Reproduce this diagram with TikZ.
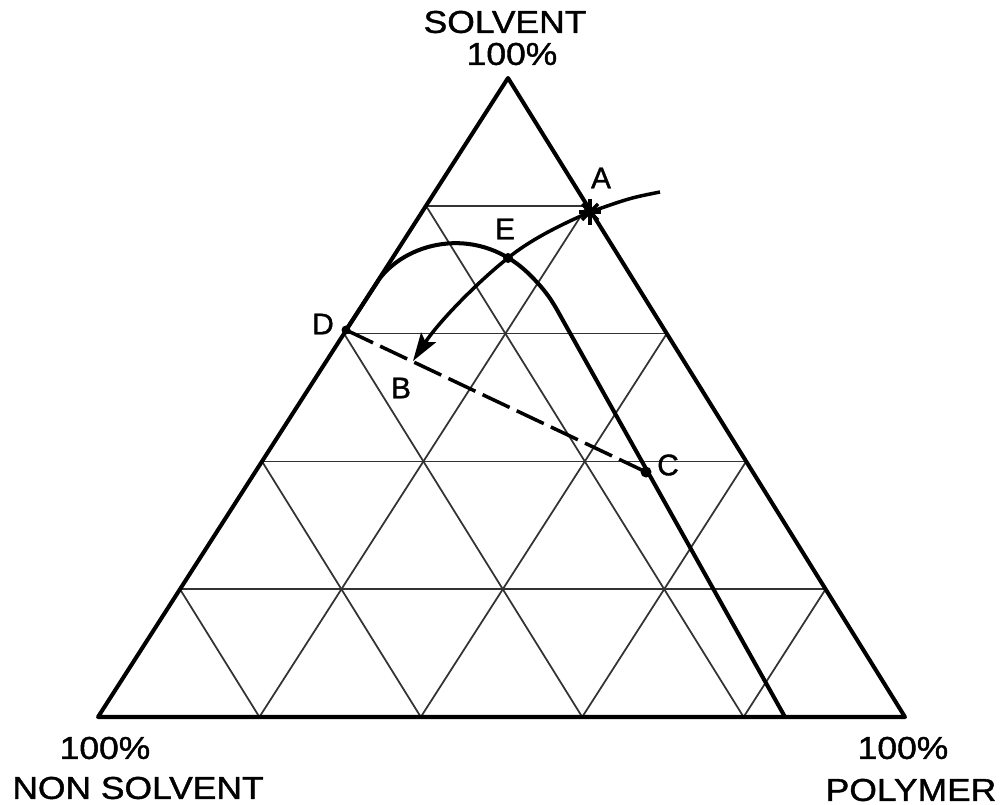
\documentclass[tikz,border=0pt]{standalone}
\usepackage{fontspec}
\usepackage{graphicx}
\setmainfont{Liberation Sans}
\newfontfamily\lblfont[FakeBold=1.2]{Liberation Sans}
\usetikzlibrary{calc,arrows.meta}
\newcommand{\wtext}[1]{\scalebox{1.12}[1]{#1}}
\begin{document}
\begin{tikzpicture}[x=0.02cm,y=-0.02cm,
  side/.style={line width=2.3pt, line join=round, line cap=round},
  gridline/.style={line width=1pt, black!80},
  curveline/.style={line width=2.3pt, line join=round},
  arrowline/.style={line width=2pt, -{Stealth[length=16pt,width=10pt,inset=3pt]}},
  tieline/.style={line width=2pt, dash pattern=on 17pt off 4.5pt},
  lbl/.style={font=\lblfont\fontsize{18}{18}\selectfont, inner sep=0pt},
  ptlbl/.style={font=\lblfont\fontsize{17}{17}\selectfont, inner sep=0pt}]
\useasboundingbox (0,0) rectangle (1005,805);
% vertices
\coordinate (T) at (508,78);
\coordinate (L) at (98,717);
\coordinate (R) at (905,717);
% grid
\foreach \k in {1,...,4}{
  \draw[gridline] ($(L)!\k/5!(T)$) -- ($(R)!\k/5!(T)$);
  \draw[gridline] ($(L)!\k/5!(R)$) -- ($(T)!\k/5!(R)$);
  \draw[gridline] ($(R)!\k/5!(L)$) -- ($(T)!\k/5!(L)$);
}
% triangle
\draw[side] (T) -- (L) -- (R) -- cycle;
% points
\coordinate (D) at (346,330);
\coordinate (E) at (508,258);
\coordinate (A) at (590,212);
\coordinate (B) at (413,361);
\coordinate (C) at (646,472);
\coordinate (S) at (660,192);
\coordinate (bottomend) at (785,717);
% binodal curve
\draw[curveline] (D) -- (380,278) .. controls (410,240) and (480,225) .. (530,275)
  .. controls (545,290) and (550,298) .. (556,308) -- (bottomend);
% tie line
\draw[tieline] (D) -- (C);
% path arrow
\draw[arrowline] (S) .. controls (630,198) .. (A) .. controls (560,225) and (530,240) .. (E)
  .. controls (480,280) and (440,320) .. (B);
% markers
\fill (D) circle (4.5);
\fill (E) circle (5);
\fill (C) circle (5.5);
\draw[line width=2.4pt] ($(A)+(-11,0)$) -- ($(A)+(11,0)$);
\draw[line width=2.4pt] ($(A)+(0,-13)$) -- ($(A)+(0,13)$);
\draw[line width=2pt] ($(A)+(-8,-8)$) -- ($(A)+(8,8)$);
\draw[line width=2pt] ($(A)+(-8,8)$) -- ($(A)+(8,-8)$);
% point labels
\node[ptlbl] (lA) at (601,178) {A};
\node[ptlbl] (lE) at (505,229) {E};
\node[ptlbl] (lD) at (323,324) {D};
\node[ptlbl] (lB) at (401,388) {B};
\node[ptlbl] (lC) at (668,465) {C};
% corner labels
\node[lbl] (solv) at (505,22) {\wtext{SOLVENT}};
\node[lbl] (solvp) at (512,54) {\wtext{100\%}};
\node[lbl] (nsp) at (105,748) {\wtext{100\%}};
\node[lbl] (ns) at (138,788) {\wtext{NON SOLVENT}};
\node[lbl] (pp) at (903,748) {\wtext{100\%}};
\node[lbl] (poly) at (911,790) {\wtext{POLYMER}};
\end{tikzpicture}
\end{document}
